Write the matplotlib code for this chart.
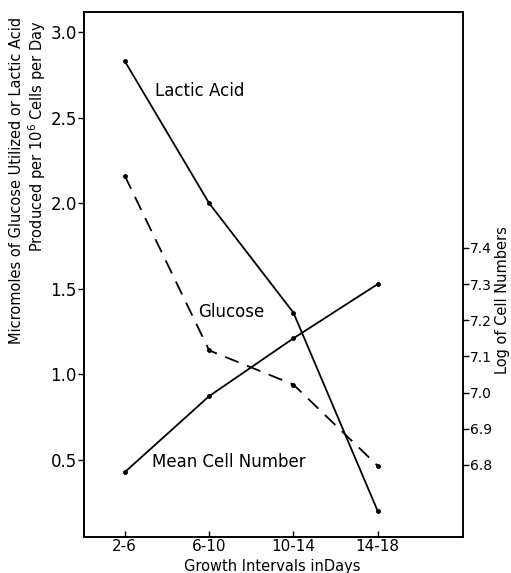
import matplotlib
matplotlib.use("Agg")
import matplotlib.pyplot as plt

# data
intervals = ["2-6", "6-10", "10-14", "14-18"]
lactic = [2.83, 2.00, 1.36, 0.20]
glucose = [2.16, 1.14, 0.94, 0.465]
log_cells = [6.78, 6.99, 7.15, 7.30]
left_ticks = [0.5, 1.0, 1.5, 2.0, 2.5, 3.0]
right_ticks = [6.8, 6.9, 7.0, 7.1, 7.2, 7.3, 7.4]

plt.rcParams['font.family'] = ['DejaVu Sans']
fig = plt.figure(figsize=(5.11, 5.73), dpi=100)
ax = fig.add_axes([0.164, 0.063, 0.742, 0.916])
x = list(range(len(intervals)))

ax.plot(x, lactic, 'k-', lw=1.3, marker='o', ms=2.5)
ax.plot(x, glucose, 'k-', lw=1.3, marker='o', ms=2.5, dashes=(8, 5))
ax.set_xlim(-0.486, 4.01)
ax.set_ylim(0.05, 3.117)
ax.set_xticks(x)
ax.set_xticklabels(intervals, fontsize=11)
ax.set_yticks(left_ticks)
ax.set_yticklabels(['%.1f' % v for v in left_ticks], fontsize=12)
ax.tick_params(axis='x', direction='in', length=4, pad=1.5, width=1)
ax.tick_params(axis='y', direction='out', length=4, pad=1, width=1)

ax2 = ax.twinx()
ax2.plot(x, log_cells, 'k-', lw=1.3, marker='o', ms=2.5)
ax2.set_ylim(6.601, 8.052)
ax2.set_yticks(right_ticks)
ax2.set_yticklabels(['%.1f' % v for v in right_ticks], fontsize=10)
ax2.tick_params(axis='y', direction='out', length=4, pad=1, width=1)

for a in (ax, ax2):
    for s in a.spines.values():
        s.set_linewidth(1.2)

ax.text(0.356, 2.655, "Lactic Acid", fontsize=12, ha='left', va='center')
ax.text(0.866, 1.365, "Glucose", fontsize=12, ha='left', va='center')
ax.text(0.32, 0.49, "Mean Cell Number", fontsize=12, ha='left', va='center')

fig.text(0.532, 0.011, "Growth Intervals inDays", fontsize=10.5, ha='center', va='center')
fig.text(0.033, 0.97, "Micromoles of Glucose Utilized or Lactic Acid",
         fontsize=10.5, rotation=90, ha='center', va='top')
fig.text(0.072, 0.965, "Produced per 10$^6$ Cells per Day",
         fontsize=10.5, rotation=90, ha='center', va='top')
fig.text(0.983, 0.476, "Log of Cell Numbers", fontsize=10.5, rotation=90,
         ha='center', va='center')

fig.savefig("out.png", dpi=100)
